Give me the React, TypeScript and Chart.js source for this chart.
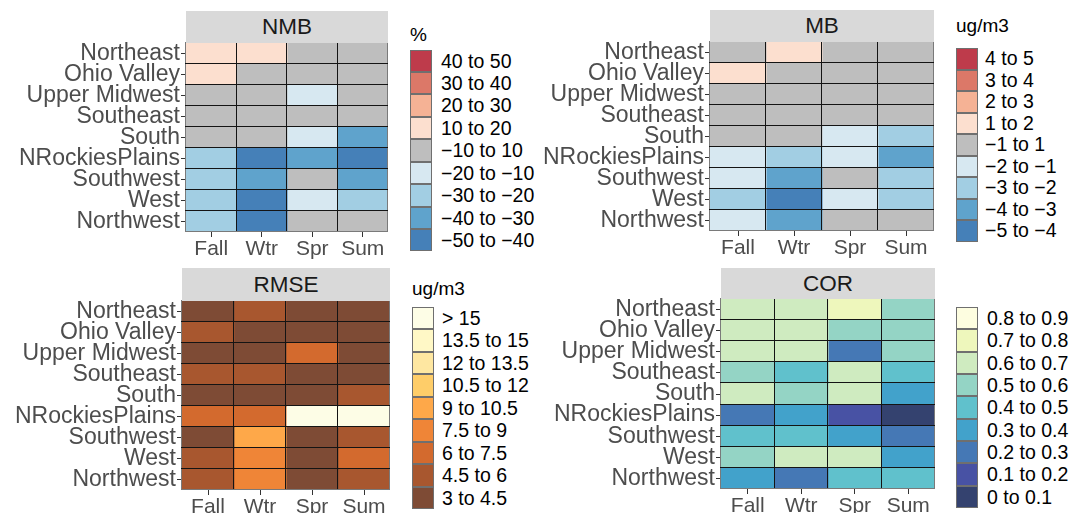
import React, { useEffect, useRef } from 'react';
import { Chart, registerables } from 'chart.js';

Chart.register(...registerables);
Chart.defaults.font.family = "'Liberation Sans', Arial, Helvetica, sans-serif";

// ---------- data ----------
const regions = ['Northeast', 'Ohio Valley', 'Upper Midwest', 'Southeast', 'South', 'NRockiesPlains', 'Southwest', 'West', 'Northwest'];
const seasons = ['Fall', 'Wtr', 'Spr', 'Sum'];

const nmbLabels = ['40 to 50', '30 to 40', '20 to 30', '10 to 20', '\u221210 to 10', '\u221220 to \u221210', '\u221230 to \u221220', '\u221240 to \u221230', '\u221250 to \u221240'];
const mbLabels = ['4 to 5', '3 to 4', '2 to 3', '1 to 2', '\u22121 to 1', '\u22122 to \u22121', '\u22123 to \u22122', '\u22124 to \u22123', '\u22125 to \u22124'];
const rmseLabels = ['> 15', '13.5 to 15', '12 to 13.5', '10.5 to 12', '9 to 10.5', '7.5 to 9', '6 to 7.5', '4.5 to 6', '3 to 4.5'];
const corLabels = ['0.8 to 0.9', '0.7 to 0.8', '0.6 to 0.7', '0.5 to 0.6', '0.4 to 0.5', '0.3 to 0.4', '0.2 to 0.3', '0.1 to 0.2', '0 to 0.1'];

// class (index into the legend labels above) per region row, columns Fall, Wtr, Spr, Sum
const nmbClasses = [
  [3, 3, 4, 4],
  [3, 4, 4, 4],
  [4, 4, 5, 4],
  [4, 4, 4, 4],
  [4, 4, 5, 7],
  [6, 8, 7, 8],
  [6, 7, 4, 7],
  [6, 8, 5, 6],
  [6, 8, 4, 4],
];
const mbClasses = [
  [4, 3, 4, 4],
  [3, 4, 4, 4],
  [4, 4, 4, 4],
  [4, 4, 4, 4],
  [4, 4, 5, 6],
  [5, 6, 5, 7],
  [5, 7, 4, 6],
  [6, 8, 5, 6],
  [5, 7, 4, 4],
];
const rmseClasses = [
  [8, 7, 8, 8],
  [7, 8, 8, 8],
  [8, 8, 6, 8],
  [7, 7, 8, 8],
  [8, 8, 8, 7],
  [6, 6, 0, 0],
  [8, 4, 8, 7],
  [7, 5, 8, 6],
  [7, 5, 8, 7],
];
const corClasses = [
  [2, 2, 1, 3],
  [2, 2, 3, 3],
  [2, 2, 6, 3],
  [3, 4, 2, 4],
  [2, 3, 2, 5],
  [6, 5, 7, 8],
  [4, 4, 5, 6],
  [3, 2, 2, 5],
  [5, 6, 4, 4],
];

// ---------- styles ----------
const divergingColors = ['#BE3B4B', '#DC7868', '#F5B295', '#FCDFCF', '#BEBEBE', '#D7E8F1', '#A2CEE3', '#5FA3CC', '#4580B8'];
const rmseColors = ['#FDFDE6', '#FFF8C6', '#FEE7A1', '#FECD69', '#FEA849', '#EF8537', '#D36A2E', '#A8572F', '#7E4B35'];
const corColors = ['#FDFDE0', '#EEF7BC', '#CFEBC0', '#94D4C5', '#60C1CC', '#42A2CB', '#4578B5', '#4852A4', '#34426F'];

type Layout = {
  canvasLeft: number;
  heat: { l: number; r: number; t: number; b: number };
  stripTop: number;
  legend: { titleBase?: number; x: number; top: number; bottom: number; labelX: number };
};

type PanelSpec = {
  title: string;
  legendTitle: string;
  labels: string[];
  colors: string[];
  classes: number[][];
  layout: Layout;
};

const panels: PanelSpec[] = [
  {
    title: 'NMB', legendTitle: '%', labels: nmbLabels, colors: divergingColors, classes: nmbClasses,
    layout: { canvasLeft: 0, heat: { l: 186, r: 388, t: 43, b: 232 }, stripTop: 11, legend: { titleBase: 41, x: 410, top: 49.5, bottom: 251.5, labelX: 441 } },
  },
  {
    title: 'MB', legendTitle: 'ug/m3', labels: mbLabels, colors: divergingColors, classes: mbClasses,
    layout: { canvasLeft: 520, heat: { l: 710, r: 934, t: 42, b: 231 }, stripTop: 10, legend: { titleBase: 32, x: 956, top: 48, bottom: 242, labelX: 985 } },
  },
  {
    title: 'RMSE', legendTitle: 'ug/m3', labels: rmseLabels, colors: rmseColors, classes: rmseClasses,
    layout: { canvasLeft: 0, heat: { l: 182, r: 390, t: 301, b: 490 }, stripTop: 268, legend: { titleBase: 295, x: 412, top: 307, bottom: 509, labelX: 442 } },
  },
  {
    title: 'COR', legendTitle: '', labels: corLabels, colors: corColors, classes: corClasses,
    layout: { canvasLeft: 520, heat: { l: 721, r: 935, t: 299, b: 489 }, stripTop: 268, legend: { x: 956, top: 307, bottom: 508, labelX: 987 } },
  },
];

const FONT = "'Liberation Sans', Arial, Helvetica, sans-serif";
const PAD_TOP = 16;
const AXIS_H = 34;

// draws the thin cell borders at the boundaries given by the chart's own scales
const cellLines = {
  id: 'cellLines',
  afterDatasetsDraw(chart: any) {
    const { ctx, scales } = chart;
    const xs = scales.x;
    const ys = scales.y;
    const nC = seasons.length;
    const nR = regions.length;
    const top = ys.getPixelForValue(-0.5);
    const bottom = ys.getPixelForValue(nR - 0.5);
    const left = xs.getPixelForValue(0);
    const right = xs.getPixelForValue(nC);
    const al = (v: number) => Math.round(v) - 0.5;
    ctx.save();
    ctx.lineWidth = 1;
    for (let i = 0; i <= nC; i++) {
      const px = al(xs.getPixelForValue(i));
      ctx.strokeStyle = i === 0 || i === nC ? '#7a7a7a' : '#141414';
      ctx.beginPath();
      ctx.moveTo(px, Math.round(top));
      ctx.lineTo(px, Math.round(bottom));
      ctx.stroke();
    }
    for (let j = 0; j <= nR; j++) {
      const py = al(ys.getPixelForValue(j - 0.5));
      ctx.strokeStyle = j === 0 || j === nR ? '#7a7a7a' : '#141414';
      ctx.beginPath();
      ctx.moveTo(Math.round(left) - 1, py);
      ctx.lineTo(Math.round(right), py);
      ctx.stroke();
    }
    ctx.restore();
  },
};

function Panel({ spec }: { spec: PanelSpec }) {
  const ref = useRef<HTMLCanvasElement | null>(null);
  const { layout } = spec;
  const { heat } = layout;
  const canvasTop = heat.t - PAD_TOP;
  const width = heat.r + 3 - layout.canvasLeft;
  const height = heat.b - canvasTop + AXIS_H;

  useEffect(() => {
    if (!ref.current) return;
    const chart = new Chart(ref.current, {
      type: 'bar',
      data: {
        labels: regions,
        datasets: seasons.map((s, si) => ({
          label: s,
          data: regions.map(() => 1),
          backgroundColor: regions.map((_, ri) => spec.colors[spec.classes[ri][si]]),
          borderWidth: 0,
          barPercentage: 1,
          categoryPercentage: 1,
          inflateAmount: 0.5,
          xAxisID: 'x',
          yAxisID: 'y',
        })),
      },
      plugins: [cellLines],
      options: {
        indexAxis: 'y',
        animation: false,
        responsive: false,
        events: [],
        layout: { padding: { top: PAD_TOP, right: 3, left: 0, bottom: 0 } },
        plugins: { legend: { display: false }, tooltip: { enabled: false } },
        scales: {
          x: {
            type: 'linear', display: false, stacked: true, min: 0, max: seasons.length,
          },
          xs: {
            type: 'category', labels: seasons, position: 'bottom', offset: true,
            grid: { drawOnChartArea: false, offset: false, tickLength: 5, color: '#333333' },
            border: { display: false },
            ticks: { font: { size: 21 }, color: '#4d4d4d', padding: 0, autoSkip: false, maxRotation: 0 },
            afterFit: (s: any) => { s.height = AXIS_H; },
          },
          y: {
            type: 'category', stacked: true,
            grid: { drawOnChartArea: false, offset: false, tickLength: 5, color: '#333333' },
            border: { display: false },
            ticks: { font: { size: 23 }, color: '#4d4d4d', padding: 1, autoSkip: false },
            afterFit: (s: any) => { s.width = heat.l - layout.canvasLeft; },
          },
        },
      } as any,
    });
    return () => chart.destroy();
  }, []);

  const lg = layout.legend;
  const keyH = (lg.bottom - lg.top) / spec.labels.length;

  return (
    <>
      <canvas
        ref={ref}
        width={width}
        height={height}
        style={{ position: 'absolute', left: layout.canvasLeft, top: canvasTop, width, height }}
      />
      <div
        style={{
          position: 'absolute', left: heat.l, top: layout.stripTop, width: heat.r - heat.l,
          height: heat.t - layout.stripTop, background: '#d9d9d9', color: '#1a1a1a',
          fontFamily: FONT, fontSize: 22.5, display: 'flex', alignItems: 'center', justifyContent: 'center',
        }}
      >
        {spec.title}
      </div>
      {spec.legendTitle && lg.titleBase !== undefined ? (
        <div style={{ position: 'absolute', left: lg.x, top: lg.titleBase - 16, fontFamily: FONT, fontSize: 19, lineHeight: '19px', color: '#000', whiteSpace: 'nowrap' }}>
          {spec.legendTitle}
        </div>
      ) : null}
      {spec.labels.map((lab, i) => (
        <React.Fragment key={lab}>
          <div
            style={{
              position: 'absolute', left: lg.x, top: lg.top + i * keyH, width: 22, height: keyH,
              boxSizing: 'border-box', border: '1px solid #6f6f6f', background: spec.colors[i],
            }}
          />
          <div
            style={{
              position: 'absolute', left: lg.labelX, top: lg.top + i * keyH, height: keyH,
              lineHeight: `${keyH}px`, fontFamily: FONT, fontSize: 19.5, color: '#000', whiteSpace: 'nowrap',
            }}
          >
            {lab}
          </div>
        </React.Fragment>
      ))}
    </>
  );
}

export default function App() {
  return (
    <div style={{ position: 'absolute', left: 0, top: 0, width: 1073, height: 513, background: '#fff', overflow: 'hidden' }}>
      {panels.map((p) => (
        <Panel key={p.title} spec={p} />
      ))}
    </div>
  );
}
